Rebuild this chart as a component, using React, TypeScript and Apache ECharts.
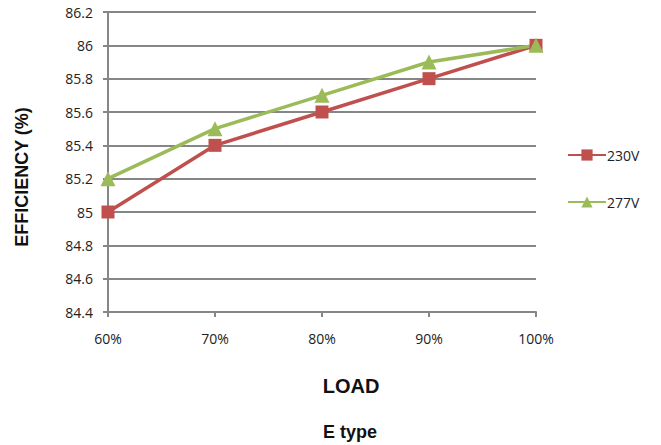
import React, { useEffect, useRef } from "react";
import * as echarts from "echarts";

const categories = ["60%", "70%", "80%", "90%", "100%"];
const s230 = [85.0, 85.4, 85.6, 85.8, 86.0];
const s277 = [85.2, 85.5, 85.7, 85.9, 86.0];
const seriesNames = ["230V", "277V"];
const yTitle = "EFFICIENCY (%)";
const xTitle = "LOAD";
const subTitle = "E type";

export default function App() {
  const ref = useRef<HTMLDivElement>(null);
  useEffect(() => {
    if (!ref.current) return;
    const chart = echarts.init(ref.current, null, { renderer: "svg" });
    const labelFont = { fontFamily: "Open Sans", fontSize: 14, color: "#222" };
    chart.setOption({
      animation: false,
      backgroundColor: "#fff",
      grid: { left: 108, right: 125, top: 12, bottom: 133, containLabel: false },
      xAxis: {
        type: "category",
        data: categories,
        boundaryGap: false,
        axisLine: { lineStyle: { color: "#868686", width: 2 } },
        axisTick: { show: true, alignWithLabel: true, length: 5, lineStyle: { color: "#868686", width: 2 } },
        axisLabel: { ...labelFont, margin: 19 },
        splitLine: { show: false },
      },
      yAxis: {
        type: "value",
        min: 84.4,
        max: 86.2,
        interval: 0.2,
        axisLine: { show: true, lineStyle: { color: "#868686", width: 2 } },
        axisTick: { show: true, length: 5, lineStyle: { color: "#868686", width: 2 } },
        axisLabel: {
          ...labelFont,
          margin: 15,
          formatter: (v: number) => String(parseFloat(v.toFixed(1))),
        },
        splitLine: { show: true, lineStyle: { color: "#868686", width: 2 } },
      },
      legend: {
        orient: "vertical",
        left: 567,
        top: 148,
        padding: 0,
        itemWidth: 38,
        itemHeight: 14,
        itemGap: 33,
        textStyle: { fontFamily: "Open Sans", fontSize: 14, color: "#222", padding: [0, 0, 0, -4] },
        data: seriesNames,
      },
      series: [
        {
          name: seriesNames[0],
          type: "line",
          data: s230,
          color: "#C0504D",
          lineStyle: { width: 3.5, color: "#C0504D" },
          symbol: "rect",
          symbolSize: 13,
          itemStyle: { color: "#C0504D" },
        },
        {
          name: seriesNames[1],
          type: "line",
          data: s277,
          color: "#9BBB59",
          lineStyle: { width: 3.5, color: "#9BBB59" },
          symbol: "triangle",
          symbolSize: 15,
          itemStyle: { color: "#9BBB59" },
        },
      ],
      graphic: [
        {
          type: "text",
          x: 22,
          y: 177,
          rotation: Math.PI / 2,
          style: {
            text: yTitle,
            font: "bold 18px 'Liberation Sans'",
            fill: "#111",
            align: "center",
            verticalAlign: "middle",
          },
        },
        {
          type: "text",
          x: 351,
          y: 386,
          style: {
            text: xTitle,
            font: "bold 20px 'Liberation Sans'",
            fill: "#111",
            align: "center",
            verticalAlign: "middle",
          },
        },
        {
          type: "text",
          x: 350,
          y: 432,
          style: {
            text: subTitle,
            font: "bold 18px 'Liberation Sans'",
            fill: "#111",
            align: "center",
            verticalAlign: "middle",
          },
        },
      ],
    });
    return () => chart.dispose();
  }, []);
  return (
    <div
      ref={ref}
      style={{ position: "absolute", left: 0, top: 0, width: 661, height: 445 }}
    />
  );
}
